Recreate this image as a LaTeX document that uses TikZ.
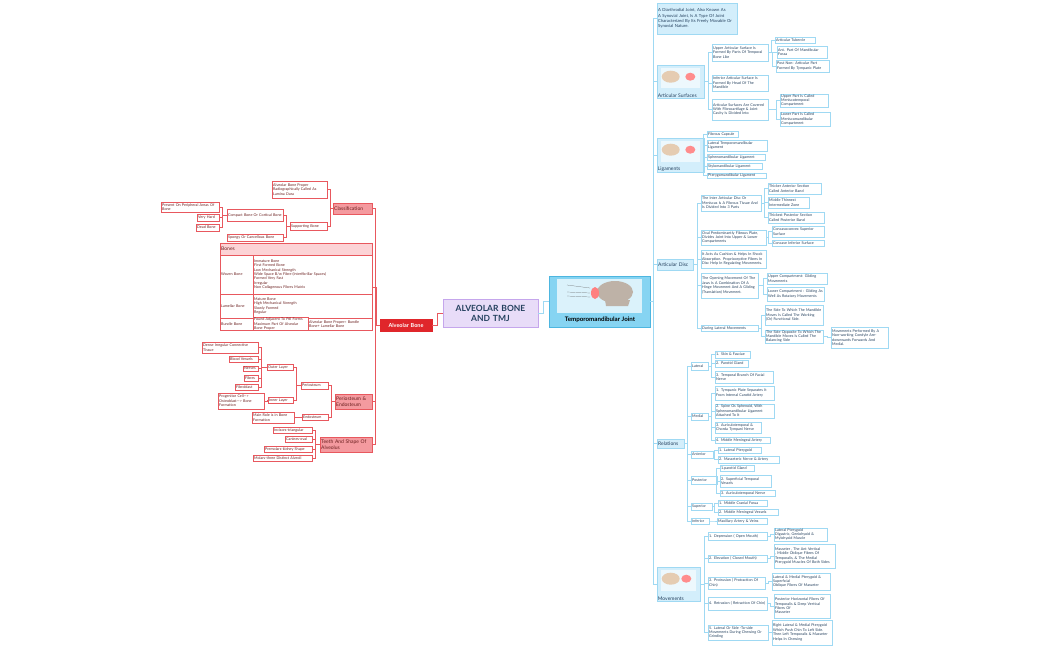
\documentclass[tikz,border=0pt]{standalone}
\usepackage{fontspec}
\setmainfont{Lato}
\definecolor{rl}{HTML}{E8585E}
\definecolor{rt}{HTML}{6B1F1F}
\definecolor{rf}{HTML}{F49A9F}
\definecolor{ra}{HTML}{E0262B}
\definecolor{rh}{HTML}{FCD3D6}
\definecolor{bl}{HTML}{9FD9F3}
\definecolor{bt}{HTML}{24405E}
\definecolor{bf}{HTML}{D3EEFB}
\definecolor{tf}{HTML}{86D4F2}
\definecolor{tb}{HTML}{4DB6E0}
\definecolor{cf}{HTML}{E8DCF8}
\definecolor{cb}{HTML}{C5A6EC}
\tikzset{
 base/.style={rectangle,inner xsep=1.2pt,inner ysep=0.3pt,align=left,font=\fontsize{3.7}{4.4}\selectfont,
   execute at begin node={\hyphenpenalty=10000\exhyphenpenalty=10000}},
 rn/.style={base,draw=rl,line width=0.5pt,fill=white,text=rt},
 rm/.style={base,draw=rl,line width=0.7pt,fill=rf,text=rt,font=\fontsize{5}{6}\selectfont},
 bn/.style={base,draw=bl,line width=0.5pt,fill=white,text=bt},
 bm/.style={base,draw=bl,line width=0.6pt,fill=bf,text=bt,font=\fontsize{5}{6}\selectfont},
 rline/.style={draw=rl,line width=0.5pt},
 bline/.style={draw=bl,line width=0.6pt},
}
\newcommand\bx[7]{%
 \pgfmathsetmacro\bxw{#4-#2}\pgfmathsetmacro\bxh{#5-#3}%
 \pgfmathsetmacro\bxcx{(#2+#4)/2}\pgfmathsetmacro\bxcy{(#3+#5)/2}%
 \pgfmathsetmacro\bxtw{#4-#2-2.4}%
 \node[#6,minimum width=\bxw pt,minimum height=\bxh pt,text width=\bxtw pt] (#1) at (\bxcx,\bxcy) {#7};}
\newcommand\lc[2]{\draw[rline] (#1.west) -| ([xshift=3pt]#2.east) -- (#2.east);}
\newcommand\rc[2]{\draw[bline] (#1.east) -| ([xshift=-3pt]#2.west) -- (#2.west);}
\newcommand\imgph[2]{%
 \fill[white!60!bf] ([shift={(4pt,-3pt)}]#1.north west) rectangle ([shift={(-4pt,10pt)}]#1.south east);
 \fill[brown!40] ([shift={(14pt,-12pt)}]#1.north west) ellipse (9pt and 6pt);
 \fill[red!45] ([shift={(-14pt,-12pt)}]#1.north east) ellipse (5pt and 4pt);
 \node[anchor=south west,inner sep=1pt,text=bt,font=\fontsize{5}{6}\selectfont] at (#1.south west) {#2};}
\begin{document}
\begin{tikzpicture}[x=1pt,y=-1pt]
\useasboundingbox[fill=white] (0,0) rectangle (1050,650);

% ---------- center ----------
\bx{ctr}{443}{299}{538}{327}{base,draw=cb,fill=cf,line width=0.8pt,align=center,text=bt,font=\bfseries\fontsize{8.5}{10}\selectfont}{ALVEOLAR BONE\\AND TMJ}
\bx{tmj}{549}{276}{650}{327}{base,draw=tb,fill=tf,line width=0.8pt,align=center}{}
\fill[white!70!tf] ([shift={(8pt,-3pt)}]tmj.north west) rectangle ([shift={(-8pt,14pt)}]tmj.south east);
\fill[brown!30!gray!60] (615,292) ellipse (18pt and 11pt);
\fill[brown!30!gray!60] (605,300) -- (630,300) -- (628,306) -- (606,306) -- cycle;
\fill[red!50] (595,293) ellipse (4pt and 6pt);
\draw[black!60,line width=0.2pt] (567,285) -- (590,288) (567,292) -- (590,293) (567,296) -- (590,297);
\node[text=black,font=\bfseries\fontsize{6.2}{7}\selectfont] at (600,320) {Temporomandibular Joint};
\bx{alv}{380}{319}{432}{331}{base,draw=ra,fill=ra,text=white,align=center,font=\bfseries\fontsize{5.5}{6}\selectfont}{Alveolar Bone}
\draw[rl,line width=1pt] (ctr.west) -- ++(-5,0) |- (alv.east);
\draw[bline] (ctr.east) -- ++(5,0) |- (tmj.west);

% ---------- left ----------
\bx{cls}{333}{203}{372}{214}{rm}{Classification}
\bx{pe}{335}{394}{372}{409}{rm}{Periosteum \& Endosteum}
\bx{tea}{320}{437}{372}{452}{rm}{Teeth And Shape Of Alveolus}
\bx{abp}{272}{181}{327}{198}{rn}{Alveolar Bone Proper Radiographically Called As Lamina Dura}
\bx{sup}{290}{222}{327}{230}{rn}{Supporting Bone}
\bx{cmp}{227}{209}{283}{221}{rn}{Compact Bone Or Cortical Bone}
\bx{spg}{227}{234}{283}{241}{rn}{Spongy Or Cancellous Bone}
\bx{pre}{161}{202}{219}{212}{rn}{Present On Peripheral Areas Of Bone}
\bx{vh}{197}{214}{219}{221}{rn}{Very Hard}
\bx{db}{196}{224}{219}{231}{rn}{Dead Bone}
\lc{cls}{abp}\lc{cls}{sup}\lc{sup}{cmp}\lc{sup}{spg}
\lc{cmp}{pre}\lc{cmp}{vh}\lc{cmp}{db}

% table
\bx{bh}{220}{243}{372}{255}{rn,fill=rh,font=\fontsize{5}{6}\selectfont}{Bones}
\bx{wl}{220}{255}{253}{294}{rn}{Woven Bone}
\bx{wc}{253}{255}{372}{294}{rn}{Immature Bone\\First Formed Bone\\Low Mechanical Strength\\Wide Space B/w Fibre (Interfibrillar Spaces)\\Formed Very Fast\\Irregular\\Non Collagenous Fibres Matrix}
\bx{ll}{220}{294}{253}{318}{rn}{Lamellar Bone}
\bx{lc}{253}{294}{372}{318}{rn}{Mature Bone\\High Mechanical Strength\\Slowly Formed\\Regular}
\bx{bul}{220}{318}{253}{330}{rn}{Bundle Bone}
\bx{bc1}{253}{318}{308}{330}{rn}{Found Adjacent To Pdl Forms Maximum Part Of Alveolar Bone Proper}
\bx{bc2}{308}{318}{372}{330}{rn}{Alveolar Bone Proper= Bundle Bone+ Lamellar Bone}
\coordinate (tbl) at (372,287);
\draw[rline] (alv.west) -| (376,287) -- (tbl);
\lc{alv}{cls}\lc{alv}{pe}\lc{alv}{tea}

\bx{per}{301}{382}{328}{389}{rn}{Periosteum}
\bx{end}{302}{414}{328}{420}{rn}{Endosteum}
\bx{out}{267}{364}{293}{370}{rn}{Outer Layer}
\bx{inn}{268}{397}{293}{403}{rn}{Inner Layer}
\bx{dic}{202}{342}{258}{353}{rn}{Dense Irregular Connective Tissue}
\bx{bv}{229}{356}{258}{362}{rn}{Blood Vessels}
\bx{nv}{243}{366}{258}{371}{rn}{Nerves}
\bx{fb}{244}{375}{258}{381}{rn}{Fibres}
\bx{fbl}{235}{384}{258}{390}{rn}{Fibroblast}
\bx{pro}{218}{393}{264}{409}{rn}{Progenitor Cell---> Osteoblast---> Bone Formation}
\bx{mr}{252}{412}{294}{423}{rn}{Main Role is in Bone Formation}
\lc{pe}{per}\lc{pe}{end}\lc{per}{out}\lc{per}{inn}
\lc{out}{dic}\lc{out}{bv}\lc{out}{nv}\lc{out}{fb}\lc{out}{fbl}
\lc{inn}{pro}\lc{end}{mr}
\bx{inc}{273}{427}{312}{433}{rn}{Incisors-triangular}
\bx{can}{285}{436}{312}{442}{rn}{Canines-oval}
\bx{pm}{264}{446}{312}{452}{rn}{Premolars-kidney Shape}
\bx{mol}{253}{455}{312}{461}{rn}{Molars-three Distinct Alveoli}
\lc{tea}{inc}\lc{tea}{can}\lc{tea}{pm}\lc{tea}{mol}

% ---------- right ----------
\bx{intro}{657}{3}{737}{34}{bn,fill=bf,font=\fontsize{4.2}{5.3}\selectfont}{A Diarthrodial Joint, Also Known As A Synovial Joint, Is A Type Of Joint Characterized By Its Freely Movable Or Synovial Nature.}
\bx{as}{657}{65}{704}{98}{bm}{}\imgph{as}{Articular Surfaces}
\bx{lig}{657}{138}{704}{172}{bm}{}\imgph{lig}{Ligaments}
\bx{ad}{657}{259}{693}{270}{bm}{Articular Disc}
\bx{rel}{657}{439}{684}{448}{bm}{Relations}
\bx{mov}{657}{567}{700}{601}{bm}{}\imgph{mov}{Movements}
\rc{tmj}{intro}\rc{tmj}{as}\rc{tmj}{lig}\rc{tmj}{ad}\rc{tmj}{rel}\rc{tmj}{mov}

\bx{as1}{712}{44}{768}{61}{bn}{Upper Articular Surface Is Formed By Parts Of Temporal Bone Like}
\bx{as2}{712}{75}{768}{91}{bn}{Inferior Articular Surface Is Formed By Head Of The Mandible}
\bx{as3}{712}{99}{768}{120}{bn}{Articular Surfaces Are Covered With Fibrocartilage \& Joint Cavity Is Divided Into}
\rc{as}{as1}\rc{as}{as2}\rc{as}{as3}
\bx{at}{775}{37}{815}{43}{bn}{Articular Tubercle}
\bx{amf}{777}{46}{827}{58}{bn}{Ant. Part Of Mandibular Fossa}
\bx{pna}{776}{60}{829}{72}{bn}{Post Non: Articular Part Formed By Tympanic Plate}
\rc{as1}{at}\rc{as1}{amf}\rc{as1}{pna}
\bx{upc}{780}{94}{828}{107}{bn}{Upper Part Is Called Meniscotemporal Compartment}
\bx{lpc}{780}{112}{830}{126}{bn}{Lower Part Is Called Meniscomandibular Compartment}
\rc{as3}{upc}\rc{as3}{lpc}

\bx{l1}{707}{131}{738}{137}{bn}{Fibrous Capsule}
\bx{l2}{707}{140}{767}{151}{bn}{Lateral Temporomandibular Ligament}
\bx{l3}{707}{154}{765}{160}{bn}{Sphenomandibular Ligament}
\bx{l4}{707}{163}{762}{169}{bn}{Stylomandibular Ligament}
\bx{l5}{707}{173}{766}{178}{bn}{Pterygomandibular Ligament}
\rc{lig}{l1}\rc{lig}{l2}\rc{lig}{l3}\rc{lig}{l4}\rc{lig}{l5}

\bx{d1}{701}{195}{761}{211}{bn}{The Inter Articular Disc Or Meniscus Is A Fibrous Tissue And Is Divided Into 3 Parts}
\bx{d2}{701}{230}{766}{245}{bn}{Oval Predominantly Fibrous Plate, Divides Joint Into Upper \& Lower Compartments}
\bx{d3}{701}{250}{766}{268}{bn}{It Acts As Cushion \& Helps In Shock Absorption. Proprioceptive Fibres In Disc Help In Regulating Movements.}
\bx{d4}{701}{273}{758}{298}{bn}{The Opening Movement Of The Jaws Is A Combination Of A Hinge Movement And A Gliding (Translation) Movement.}
\bx{d5}{701}{325}{758}{331}{bn}{During Lateral Movements}
\rc{ad}{d1}\rc{ad}{d2}\rc{ad}{d3}\rc{ad}{d4}\rc{ad}{d5}
\bx{d11}{768}{183}{821}{194}{bn}{Thicker Anterior Section Called Anterior Band}
\bx{d12}{768}{197}{809}{208}{bn}{Middle Thinnest Intermediate Zone}
\bx{d13}{768}{212}{824}{223}{bn}{Thickest Posterior Section Called Posterior Band}
\rc{d1}{d11}\rc{d1}{d12}\rc{d1}{d13}
\bx{d21}{772}{226}{824}{237}{bn}{Concavoconvex Superior Surface}
\bx{d22}{772}{240}{824}{246}{bn}{Concave Inferior Surface}
\rc{d2}{d21}\rc{d2}{d22}
\bx{d41}{767}{273}{827}{284}{bn}{Upper Compartment: Gliding Movements}
\bx{d42}{767}{287}{824}{301}{bn}{Lower Compartment : Gliding As Well As Rotatory Movements}
\rc{d4}{d41}\rc{d4}{d42}
\bx{d51}{765}{305}{823}{325}{bn}{The Side To Which The Mandible Moves Is Called The Working (Or) Functional Side.}
\bx{d52}{765}{330}{823}{343}{bn}{The Side Opposite To Which The Mandible Moves Is Called The Balancing Side}
\rc{d5}{d51}\rc{d5}{d52}
\bx{d521}{831}{327}{888}{348}{bn}{Movements Performed By A Non-working Condyle Are- downwards Forwards And Medial.}
\rc{d52}{d521}

\bx{rl1}{691}{362}{708}{370}{bn}{Lateral}
\bx{rl2}{691}{413}{708}{420}{bn}{Medial}
\bx{rl3}{691}{451}{713}{458}{bn}{Anterior}
\bx{rl4}{691}{476}{717}{484}{bn}{Posterior}
\bx{rl5}{691}{503}{712}{510}{bn}{Superior}
\bx{rl6}{691}{518}{709}{524}{bn}{Inferior}
\rc{rel}{rl1}\rc{rel}{rl2}\rc{rel}{rl3}\rc{rel}{rl4}\rc{rel}{rl5}\rc{rel}{rl6}
\bx{a1}{715}{351}{750}{358}{bn}{1. Skin \& Fasciae}
\bx{a2}{715}{360}{748}{367}{bn}{2. Parotid Gland}
\bx{a3}{715}{371}{773}{383}{bn}{3. Temporal Branch Of Facial Nerve}
\rc{rl1}{a1}\rc{rl1}{a2}\rc{rl1}{a3}
\bx{m1}{715}{386}{774}{400}{bn}{1. Tympanic Plate Separates It From Internal Carotid Artery}
\bx{m2}{715}{404}{774}{418}{bn}{2. Spine Os Sphenoid, With Sphenomandibular Ligament Attached To It}
\bx{m3}{715}{422}{761}{433}{bn}{3. Auriculotemporal \& Chorda Tympani Nerve}
\bx{m4}{715}{437}{770}{443}{bn}{4. Middle Meningeal Artery}
\rc{rl2}{m1}\rc{rl2}{m2}\rc{rl2}{m3}\rc{rl2}{m4}
\bx{n1}{718}{447}{761}{453}{bn}{1. Lateral Pterygoid}
\bx{n2}{718}{456}{779}{463}{bn}{2. Masseteric Nerve \& Artery}
\rc{rl3}{n1}\rc{rl3}{n2}
\bx{p1}{720}{465}{754}{471}{bn}{1.parotid Gland}
\bx{p2}{720}{475}{771}{487}{bn}{2. Superficial Temporal Vessels}
\bx{p3}{720}{490}{775}{496}{bn}{3. Auriculotemporal Nerve}
\rc{rl4}{p1}\rc{rl4}{p2}\rc{rl4}{p3}
\bx{s1}{718}{500}{767}{506}{bn}{1. Middle Cranial Fossa}
\bx{s2}{718}{509}{778}{515}{bn}{2. Middle Meningeal Vessels}
\rc{rl5}{s1}\rc{rl5}{s2}
\bx{i1}{717}{518}{767}{524}{bn}{Maxillary Artery \& Veins}
\rc{rl6}{i1}

\bx{v1}{708}{532}{767}{540}{bn}{1. Depression ( Open Mouth)}
\bx{v2}{708}{555}{767}{562}{bn}{2. Elevation ( Closed Mouth)}
\bx{v3}{708}{577}{765}{589}{bn}{3. Protrusion ( Protraction Of Chin)}
\bx{v4}{708}{597}{767}{610}{bn}{4. Retrusion ( Retraction Of Chin)}
\bx{v5}{708}{625}{768}{640}{bn}{5. Lateral Or Side -To-side Movements During Chewing Or Grinding}
\rc{mov}{v1}\rc{mov}{v2}\rc{mov}{v3}\rc{mov}{v4}\rc{mov}{v5}
\bx{w1}{774}{528}{827}{541}{bn}{Lateral Pterygoid\\ Digastric, Geniohyoid \& Mylohyoid Muscle}
\bx{w2}{774}{544}{835}{568}{bn}{Masseter , The Ant Vertical , Middle Oblique Fibres Of Temporalis, \& The Medial Pterygoid Muscles Of Both Sides}
\bx{w3}{772}{573}{830}{590}{bn}{Lateral \& Medial Pterygoid \& Superficial\\Oblique Fibres Of Masseter}
\bx{w4}{774}{594}{830}{618}{bn}{Posterior Horizontal Fibres Of\\Temporalis \& Deep Vertical Fibres Of\\Masseter}
\bx{w5}{772}{620}{832}{645}{bn}{Right Lateral \& Medial Pterygoid Which Push Chin To Left Side. Then Left Temporalis \& Masseter Helps In Chewing}
\rc{v1}{w1}\rc{v2}{w2}\rc{v3}{w3}\rc{v4}{w4}\rc{v5}{w5}
\end{tikzpicture}
\end{document}
